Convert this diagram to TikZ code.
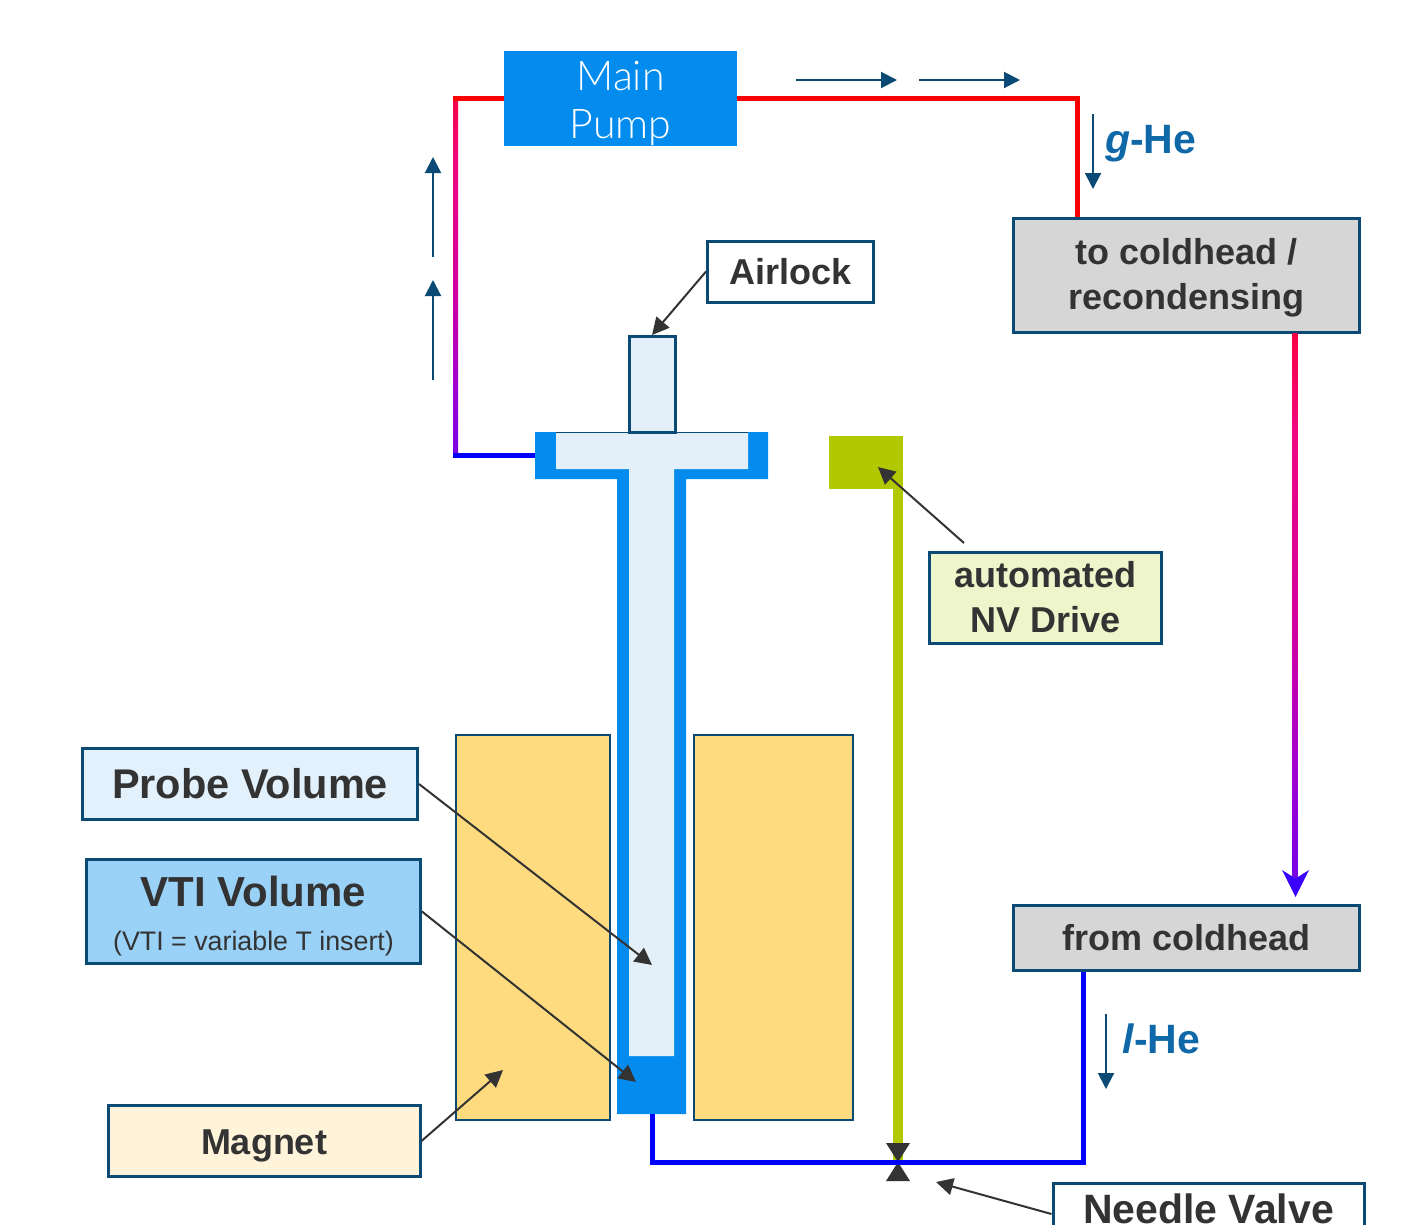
\documentclass[tikz,border=0pt]{standalone}
\usepackage{fontspec}
\setmainfont{Liberation Sans}
\newfontfamily\lightf{Lato}[UprightFont=* Light]
\usetikzlibrary{arrows.meta,calc}
\definecolor{edgeblue}{HTML}{0B4A75}
\definecolor{vtiblue}{HTML}{038CEE}
\definecolor{probefill}{HTML}{E3F0F9}
\definecolor{magnetfill}{HTML}{FDDB7E}
\definecolor{nvgreen}{HTML}{B2C800}
\definecolor{greybox}{HTML}{D6D6D6}
\definecolor{nvbox}{HTML}{EFF5CB}
\definecolor{magbox}{HTML}{FFF4D9}
\definecolor{vtibox}{HTML}{99D1F7}
\definecolor{probebox}{HTML}{E3F1FC}
\definecolor{txt}{HTML}{333333}
\definecolor{helabel}{HTML}{0F69A8}
\definecolor{headviolet}{HTML}{3A00FF}
\newcommand\dnshift[2]{\raisebox{-#1}[\height][\depth]{#2}}
\pgfdeclareverticalshading{pipefade}{100bp}{rgb(0bp)=(.16,0,1); rgb(6bp)=(.23,0,1); rgb(20bp)=(.38,0,.94); rgb(35bp)=(.63,0,.82); rgb(48bp)=(.82,0,.63); rgb(66bp)=(.94,.03,.5); rgb(82bp)=(1,0,.08); rgb(100bp)=(1,0,0)}
\tikzset{
  x=1pt,y=-1pt,
  lab/.style={draw=edgeblue,line width=3pt,text=txt,inner sep=0pt,align=center,font=\bfseries\fontsize{36}{45}\selectfont},
  thinpart/.style={draw=edgeblue,line width=2pt},
  flowarrow/.style={draw=edgeblue,line width=2pt,-{Triangle[length=16pt,width=16pt]}},
  callout/.style={draw=txt,line width=2pt,-{Triangle[length=17pt,width=17pt]}},
  redpipe/.style={draw=red,line width=5pt},
  bluepipe/.style={draw=blue,line width=5pt},
  helab/.style={text=helabel,inner sep=0pt,anchor=base west,font=\bfseries\fontsize{41}{44}\selectfont},
}
\begin{document}
\begin{tikzpicture}
\useasboundingbox (0,0) rectangle (1412,1224);
\clip (0,0) rectangle (1412,1224);
% magnets
\node[thinpart,fill=magnetfill,inner sep=0pt,minimum width=154pt,minimum height=385pt] (magL) at (533,927.5) {};
\node[thinpart,fill=magnetfill,inner sep=0pt,minimum width=159pt,minimum height=385pt] (magR) at (773.5,927.5) {};
% VTI
\fill[vtiblue] (535,432) -- (768,432) -- (768,479) -- (686,479) -- (686,1114) -- (617,1114) -- (617,479) -- (535,479) -- cycle;
\fill[probefill] (556,432) -- (748,432) -- (748,469) -- (674,469) -- (674,1056) -- (629,1056) -- (629,469) -- (556,469) -- cycle;
\draw[edgeblue,line width=1.2pt] (556,432.5) -- (748,432.5);
\node[thinpart,line width=2.4pt,fill=probefill,inner sep=0pt,minimum width=46pt,minimum height=96pt] (lock) at (652.5,384.5) {};
\coordinate (vtiL) at (535,455.5);
\coordinate (vtiB) at (652,1114);
% NV drive
\fill[nvgreen] (893,480) rectangle (903,1160);
\node[fill=nvgreen,inner sep=0pt,minimum width=74pt,minimum height=53pt] (nvhead) at (866,462.5) {};
% valve
\coordinate (valve) at (898,1162);
\fill[txt] (886,1143) -- (910,1143) -- (valve) -- cycle;
\fill[txt] (886,1181) -- (910,1181) -- (valve) -- cycle;
% boxes
\node[fill=vtiblue,text=white,inner sep=0pt,align=center,minimum width=233pt,minimum height=95pt,font=\lightf\fontsize{41}{48}\selectfont] (pump) at (620.5,98.5) {\dnshift{5pt}{Main}\\\dnshift{5pt}{Pump}};
\node[lab,fill=white,minimum width=166pt,minimum height=61pt] (airlock) at (790.5,271.5) {Airlock};
\node[lab,fill=greybox,minimum width=346pt,minimum height=114pt] (tocold) at (1186.5,275) {\dnshift{3pt}{to coldhead /}\\\dnshift{3pt}{recondensing}};
\node[lab,fill=greybox,minimum width=346pt,minimum height=65pt] (fromcold) at (1186.5,938) {from coldhead};
\node[lab,fill=nvbox,minimum width=232pt,minimum height=91pt] (nvlabel) at (1045.5,597.5) {automated\\NV Drive};
\node[lab,fill=probebox,minimum width=335pt,minimum height=71pt,font=\bfseries\fontsize{41.5}{48}\selectfont] (probe) at (250,784) {Probe Volume};
\node[lab,fill=vtibox,minimum width=334pt,minimum height=104pt,font=\bfseries\fontsize{42}{48}\selectfont] (vti) at (253.5,911.5) {\dnshift{5pt}{VTI Volume}\\[-3pt]{\mdseries\fontsize{26.8}{34}\selectfont\dnshift{4pt}{(VTI = variable T insert)}}};
\node[lab,fill=magbox,minimum width=312pt,minimum height=71pt] (magnet) at (264,1141) {\dnshift{4.5pt}{Magnet}};
\node[lab,fill=white,minimum width=311pt,minimum height=62pt,font=\bfseries\fontsize{41}{48}\selectfont,text height=29pt,text depth=11pt] (needle) at (1208.5,1214) {Needle Valve};
% pipes
\shade[shading=pipefade] (453,96) rectangle (458,457.8);
\draw[redpipe] (pump.west) -- (453,98.5);
\draw[bluepipe] (vtiL) -- (453,455.5);
\coordinate (rcorner) at (1077,98.5);
\draw[redpipe,line join=miter] (pump.east) -- (rcorner) -- (rcorner |- tocold.north);
\coordinate (bcorner) at (1083,1162);
\draw[bluepipe,line join=miter] (vtiB) -- (vtiB |- valve) -- (bcorner) -- (bcorner |- fromcold.south);
\shade[shading=pipefade] (1292.5,333.5) rectangle (1297.5,882);
\coordinate (rtip) at (1295.5,897);
\fill[headviolet] (rtip) -- (1282,870) -- (1295.5,878.5) -- (1309,870) -- cycle;
% flow arrows
\coordinate (f1a) at (796,80); \coordinate (f1b) at (897,80);
\coordinate (f2a) at (919,80); \coordinate (f2b) at (1020,80);
\coordinate (f3a) at (433,257); \coordinate (f3b) at (433,157);
\coordinate (f4a) at (433,380); \coordinate (f4b) at (433,280);
\coordinate (f5a) at (1093,114); \coordinate (f5b) at (1093,189);
\coordinate (f6a) at (1106,1014); \coordinate (f6b) at (1106,1089);
\draw[flowarrow] (f1a) -- (f1b);
\draw[flowarrow] (f2a) -- (f2b);
\draw[flowarrow] (f3a) -- (f3b);
\draw[flowarrow] (f4a) -- (f4b);
\draw[flowarrow] (f5a) -- (f5b);
\draw[flowarrow] (f6a) -- (f6b);
\node[helab] (ghe) at (1105,153) {\textit{g}-He};
\node[helab] (lhe) at (1122,1053) {\textit{l}-He};
% callouts
\coordinate (c1) at (652,335);
\coordinate (c2) at (878,467);
\coordinate (c2s) at (964,543);
\coordinate (c3) at (652,965);
\coordinate (c4) at (636,1082);
\coordinate (c5) at (503,1070);
\coordinate (c6) at (936,1182);
\draw[callout] (airlock.west) -- (c1);
\draw[callout] (c2s) -- (c2);
\draw[callout] (probe.east) -- (c3);
\draw[callout] (vti.east) -- (c4);
\draw[callout] (magnet.east) -- (c5);
\draw[callout] (needle.west) -- (c6);
\end{tikzpicture}
\end{document}
